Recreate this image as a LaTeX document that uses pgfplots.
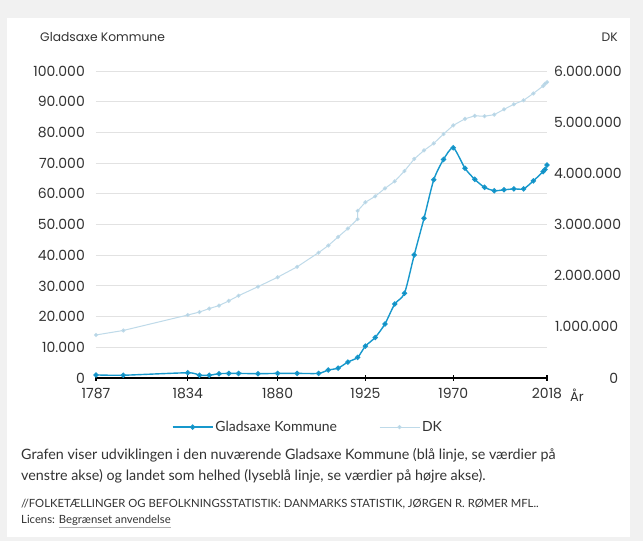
\documentclass[border=0pt]{standalone}
\usepackage{pgfplots}
\pgfplotsset{compat=1.18}
\usepackage{fontspec}
\setmainfont{Lato}
\newfontfamily\axisfont{Poppins}

\definecolor{dkblue}{RGB}{23,152,204}
\definecolor{dkmark}{RGB}{18,125,175}
\definecolor{ltblue}{RGB}{190,218,233}
\definecolor{ltmark}{RGB}{170,204,224}
\definecolor{gridc}{RGB}{226,226,226}
\definecolor{txt}{RGB}{51,51,51}
\definecolor{bggray}{RGB}{241,241,241}

\pgfplotstableread{
year pop
1787 1000
1801 900
1834 1700
1840 900
1845 900
1850 1400
1855 1500
1860 1500
1870 1400
1880 1500
1890 1500
1901 1500
1906 2600
1911 3200
1916 5200
1921 6700
1925 10400
1930 13200
1935 17600
1940 24100
1945 27600
1950 40100
1955 52000
1960 64600
1965 71200
1970 75000
1976 68300
1981 64700
1986 62100
1991 61000
1996 61300
2001 61600
2006 61600
2011 64200
2016 67200
2017 67900
2018 69400
}\gladsaxe

\pgfplotstableread{
year pop
1787 841000
1801 929000
1834 1231000
1840 1289000
1845 1357000
1850 1415000
1855 1507000
1860 1608000
1870 1785000
1880 1969000
1890 2172000
1901 2450000
1906 2589000
1911 2757000
1916 2921000
1921 3105000
1921 3267000
1925 3435000
1930 3551000
1935 3706000
1940 3844000
1945 4045000
1950 4281000
1955 4448000
1960 4585000
1965 4768000
1970 4938000
1976 5065000
1981 5124000
1986 5116000
1991 5147000
1996 5251000
2001 5349000
2006 5427000
2011 5561000
2016 5707000
2017 5749000
2018 5781000
}\dk

\begin{document}
\begin{tikzpicture}[x=1pt,y=1pt]
\fill[bggray] (0,0) rectangle (643,541);
\fill[white] (7,4) rectangle (630,523);

% left axis: Gladsaxe Kommune
\begin{axis}[
    at={(96pt,163pt)}, anchor=south west,
    scale only axis, width=451pt, height=307pt,
    xmin=1787, xmax=2018, ymin=0, ymax=100000,
    axis x line*=bottom, axis y line*=left,
    y axis line style={draw=none},
    x axis line style={line width=1.5pt, black, -},
    xtick={1787,1834,1880,1925,1970,2018},
    ytick={0,10000,20000,30000,40000,50000,60000,70000,80000,90000,100000},
    ymajorgrids, major grid style={gridc, line width=0.9pt},
    major tick length=6pt, tick align=center,
    ytick style={draw=none},
    xtick style={black, line width=1.2pt},
    scaled y ticks=false,
    /pgf/number format/assume math mode=true,
    tick label style={font=\axisfont\fontsize{14}{16}\selectfont, text=txt},
    yticklabel style={/pgf/number format/.cd, fixed, precision=0, 1000 sep={.}, /tikz/.cd, anchor=east, inner sep=0pt, xshift=-8pt},
    xticklabel style={/pgf/number format/1000 sep={}, yshift=-4pt},
    clip=false,
    legend style={at={(0.47,-0.16)}, anchor=center, draw=none, fill=none,
        font=\fontsize{14}{16}\selectfont, text=txt, legend columns=2,
        /tikz/every even column/.append style={column sep=40pt}},
    legend image code/.code={\draw[mark repeat=2,mark phase=2,#1] plot coordinates {(0pt,0pt) (20pt,0pt) (40pt,0pt)};},
]
\addplot[dkblue, line width=1.4pt, smooth, tension=0.4, mark=*, mark size=1.9pt,
    mark options={fill=dkmark, draw=none}] table[x=year, y=pop] {\gladsaxe};
\addlegendentry{Gladsaxe Kommune}
\addlegendimage{ltblue, line width=1pt, mark=*, mark size=1.5pt, mark options={fill=ltmark, draw=none}}
\addlegendentry{DK}
\end{axis}

% right axis: DK
\begin{axis}[
    at={(96pt,163pt)}, anchor=south west,
    scale only axis, width=451pt, height=307pt,
    xmin=1787, xmax=2018, ymin=0, ymax=6000000,
    hide x axis, axis y line*=right,
    y axis line style={draw=none},
    ytick={0,1000000,2000000,3000000,4000000,5000000,6000000},
    ytick style={draw=none},
    scaled y ticks=false,
    /pgf/number format/assume math mode=true,
    tick label style={font=\axisfont\fontsize{14}{16}\selectfont, text=txt},
    yticklabel style={/pgf/number format/.cd, fixed, precision=0, 1000 sep={.}, /tikz/.cd, anchor=west, inner sep=0pt, text width=64pt, align=right, xshift=7pt},
    clip=false,
]
\addplot[ltblue, line width=1pt, mark=*, mark size=1.5pt,
    mark options={fill=ltmark, draw=none}] table[x=year, y=pop] {\dk};
\end{axis}

\node[anchor=west, text=txt, font=\axisfont\fontsize{12.3}{15}\selectfont, inner sep=0pt] at (40,504) {Gladsaxe Kommune};
\node[anchor=east, text=txt, font=\axisfont\fontsize{12.3}{15}\selectfont, inner sep=0pt] at (618,504) {DK};
\node[anchor=west, text=txt, font=\axisfont\fontsize{13}{15}\selectfont, inner sep=0pt] at (570,146) {År};

\node[anchor=west, text=txt, font=\fontsize{14.3}{17}\selectfont, inner sep=0pt] at (21,86) {Grafen viser udviklingen i den nuværende Gladsaxe Kommune (blå linje, se værdier på};
\node[anchor=west, text=txt, font=\fontsize{14.3}{17}\selectfont, inner sep=0pt] at (21,65) {venstre akse) og landet som helhed (lyseblå linje, se værdier på højre akse).};
\node[anchor=west, text=txt, font=\fontsize{11.3}{13}\selectfont, inner sep=0pt] at (21,37) {//FOLKETÆLLINGER OG BEFOLKNINGSSTATISTIK: DANMARKS STATISTIK, JØRGEN R. RØMER MFL..};
\node[anchor=base west, text=txt, font=\fontsize{11.3}{13}\selectfont, inner sep=0pt] (lic) at (21,17) {Licens:};
\node[anchor=base west, text=txt, font=\fontsize{11.3}{13}\selectfont, inner sep=0pt] (ba) at ([xshift=3.5pt]lic.base east) {Begrænset anvendelse};
\draw[gray!60, line width=0.6pt] ([yshift=-3pt]ba.base west) -- ([yshift=-3pt]ba.base east);
\end{tikzpicture}
\end{document}
